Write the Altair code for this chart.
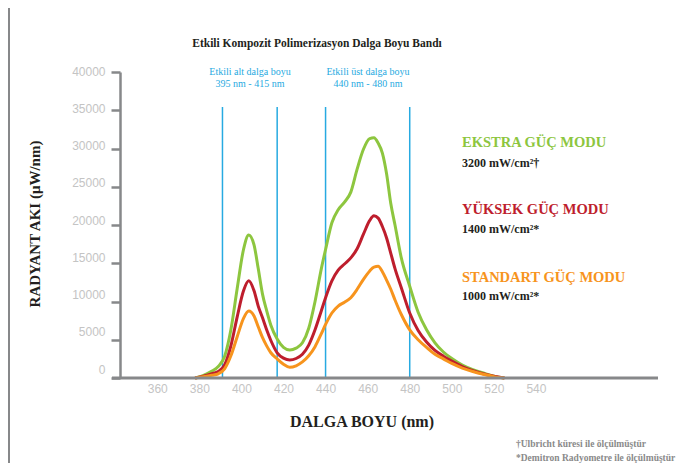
import altair as alt
import pandas as pd

# ---------------- data ----------------
wavelength = [378, 382, 386, 389, 392, 395, 398, 401, 403.5, 406,
              408, 410, 412, 414, 417, 420, 423, 426, 429, 432,
              435, 438, 440, 443, 446, 449, 452, 455, 458, 461,
              463, 465, 467, 469, 471, 473, 476, 480, 484, 488,
              492, 496, 500, 505, 510, 515, 520, 525]
ekstra = [0, 350, 900, 1500, 2800, 6300, 11700, 16800, 18700, 17400,
          14300, 11000, 8800, 6900, 5100, 4000, 3650, 3900, 4600, 6500,
          10000, 14300, 16800, 20300, 22000, 23000, 24300, 27300, 29900, 31300,
          31400, 30700, 29400, 26700, 22800, 20000, 15700, 12000, 8600, 6300,
          4600, 3400, 2550, 1700, 1100, 650, 250, 0]
yuksek = [0, 250, 550, 850, 1700, 4200, 8000, 11400, 12700, 11400,
          9400, 7900, 6300, 4900, 3300, 2600, 2350, 2550, 3100, 4300,
          6300, 8800, 10500, 12700, 14100, 14900, 15700, 16900, 18800, 20600,
          21200, 20900, 19800, 18300, 16300, 14300, 11800, 8500, 6200, 4700,
          3600, 2850, 2200, 1500, 950, 550, 220, 0]
standart = [0, 150, 350, 550, 1200, 2900, 5400, 7800, 8750, 8100,
            6700, 5300, 4200, 3300, 2500, 1800, 1400, 1600, 2100, 2900,
            4100, 5800, 7000, 8500, 9400, 9900, 10500, 11600, 12900, 14000,
            14500, 14600, 13900, 12800, 11600, 10200, 8300, 6300, 5000, 4000,
            3100, 2500, 1900, 1300, 850, 480, 180, 0]
band_lines = [391, 417, 440, 480]
x_ticks = [360, 380, 400, 420, 440, 460, 480, 500, 520, 540]
y_ticks = [0, 5000, 10000, 15000, 20000, 25000, 30000, 35000, 40000]

series = [("EKSTRA", ekstra, "#8dc63f"),
          ("YÜKSEK", yuksek, "#be1e2d"),
          ("STANDART", standart, "#f7941d")]

W, H = 538, 306
SERIF = "Liberation Serif"
SANS = "Liberation Sans"
BLUE = "#27aae1"
GRAY = "#87888a"

xscale = alt.Scale(domain=[342.3, 598], nice=False, zero=False)
yscale = alt.Scale(domain=[0, 40000], nice=False)

xaxis = alt.Axis(values=x_ticks, domain=False, ticks=False, tickSize=0, grid=False,
                 labelColor="#c4c4c4", labelFont=SANS, labelFontSize=12,
                 labelPadding=5, title=None)
yaxis = alt.Axis(values=y_ticks, format="d", grid=False, domainColor=GRAY, domainWidth=2.5,
                 tickColor=GRAY, tickWidth=2.5, tickSize=9,
                 labelColor="#c4c4c4", labelFont=SANS, labelFontSize=12,
                 labelPadding=6, labelOffset={"expr": "-1 - 8*(1 - datum.value/40000)"},
                 title=None)

one = pd.DataFrame({"a": [0]})

layers = []

# left frame bar
layers.append(alt.Chart(one).mark_rect(color=GRAY).encode(
    x=alt.value(-112), x2=alt.value(-110), y=alt.value(-64), y2=alt.value(395)))

# blue band lines
layers.append(alt.Chart(pd.DataFrame({"wl": band_lines})).mark_rule(
    color=BLUE, strokeWidth=1.5).encode(
    x=alt.X("wl:Q", scale=xscale, axis=xaxis),
    y=alt.value(35), y2=alt.value(H)))

# curves
for name, vals, col in series:
    df = pd.DataFrame({"wl": wavelength, "val": vals})
    layers.append(alt.Chart(df).mark_line(color=col, strokeWidth=3,
                                          interpolate="monotone").encode(
        x=alt.X("wl:Q", scale=xscale, axis=xaxis),
        y=alt.Y("val:Q", scale=yscale, axis=yaxis)))

# x axis line
layers.append(alt.Chart(one).mark_rule(color=GRAY, strokeWidth=3).encode(
    x=alt.value(-8), x2=alt.value(W), y=alt.value(H)))


def label(txt, x, y, size, color, weight="normal", font=SERIF, align="center", angle=0):
    return alt.Chart(one).mark_text(text=txt, fontSize=size, color=color,
                                    fontWeight=weight, font=font, align=align,
                                    baseline="middle", angle=angle).encode(
        x=alt.value(x), y=alt.value(y))


layers += [
    label("Etkili Kompozit Polimerizasyon Dalga Boyu Bandı", 197, -28, 11.5, "#231f20", "bold"),
    label("Etkili alt dalga boyu", 130, -0.5, 10, BLUE),
    label("395 nm - 415 nm", 130, 11.5, 10, BLUE),
    label("Etkili üst dalga boyu", 248, 0.3, 10, BLUE),
    label("440 nm - 480 nm", 248, 12.3, 10, BLUE),
    label("EKSTRA GÜÇ MODU", 342, 70.7, 14.5, "#8dc63f", "bold", align="left"),
    label("3200 mW/cm²†", 342, 90.7, 12, "#231f20", "bold", align="left"),
    label("YÜKSEK GÜÇ MODU", 342, 138, 14.5, "#be1e2d", "bold", align="left"),
    label("1400 mW/cm²*", 342, 157, 12, "#231f20", "bold", align="left"),
    label("STANDART GÜÇ MODU", 342, 206, 14.5, "#f7941d", "bold", align="left"),
    label("1000 mW/cm²*", 342, 223.7, 12, "#231f20", "bold", align="left"),
    label("RADYANT AKI (μW/nm)", -85, 152, 15, "#231f20", "bold", angle=270),
    label("DALGA BOYU (nm)", 242, 350, 16, "#231f20", "bold"),
    label("†Ulbricht küresi ile ölçülmüştür", 396, 372.3, 9.5, "#8a8a8a", "bold", align="left"),
    label("*Demitron Radyometre ile ölçülmüştür", 396, 386.3, 9.5, "#8a8a8a", "bold", align="left"),
]

chart = alt.layer(*layers).properties(
    width=W, height=H,
    padding={"left": 112, "top": 64, "right": 24, "bottom": 85},
    autosize=alt.AutoSizeParams(type="none"),
).configure_view(stroke=None)

chart.save("out.html", embed_options={"renderer": "svg", "actions": False})
